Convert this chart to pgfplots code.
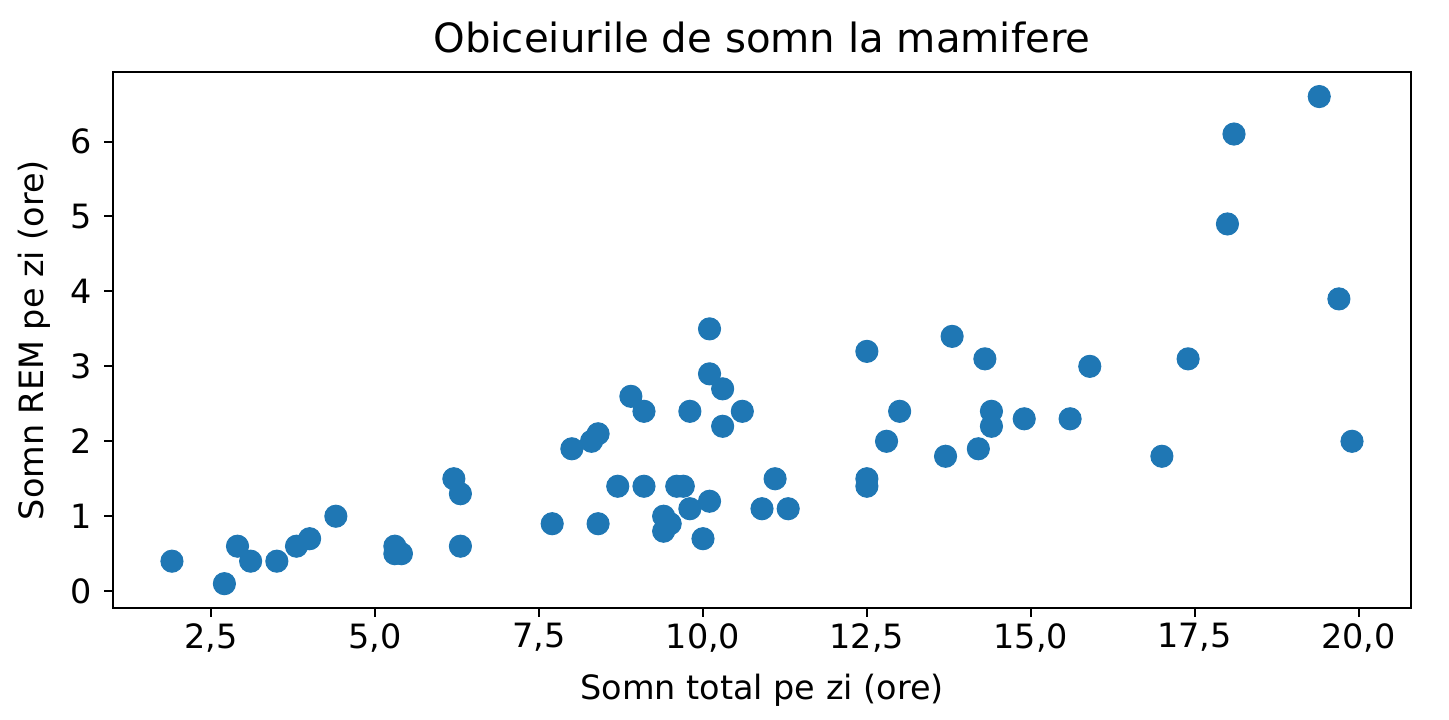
\documentclass[border=0pt]{standalone}
\usepackage{fontspec}
\setmainfont{DejaVu Sans}
\usepackage{pgfplots}
\pgfplotsset{compat=1.18}
\definecolor{tabblue}{HTML}{1F77B4}

\begin{document}
\begin{tikzpicture}
\path[use as bounding box] (-44.9pt,-44.5pt) rectangle (531.1pt,241.7pt);
\begin{axis}[
    scale only axis,
    width=516pt, height=213pt,
    xmin=1.0, xmax=20.8,
    ymin=-0.225, ymax=6.925,
    xtick={2.5,5,7.5,10,12.5,15,17.5,20},
    ytick={0,1,2,3,4,5,6},
    tick align=outside,
    major tick length=3.5pt,
    tick style={black, line width=0.8pt},
    axis line style={line width=0.8pt},
    xtick pos=bottom, ytick pos=left,
    /pgf/number format/assume math mode=true,
    xticklabel style={/pgf/number format/use comma, /pgf/number format/fixed,
        /pgf/number format/fixed zerofill, /pgf/number format/precision=1, yshift=1pt},
    ticklabel style={font=\fontsize{13.3}{15}\selectfont},
    yticklabel style={xshift=-1.5pt},
    title={Obiceiurile de somn la mamifere},
    title style={font=\fontsize{16}{18}\selectfont, yshift=-2pt},
    xlabel={Somn total pe zi (ore)},
    ylabel={Somn REM pe zi (ore)},
    label style={font=\fontsize{13.3}{15}\selectfont},
    xlabel style={yshift=-2pt},
    ylabel style={yshift=1pt},
]
\addplot[only marks, mark=*, mark size=4.4pt, color=tabblue, mark options={draw=tabblue, fill=tabblue}]
coordinates {
(1.9,0.4)(2.7,0.1)(2.9,0.6)(3.1,0.4)(3.5,0.4)(3.8,0.6)(4.0,0.7)(4.4,1.0)
(5.3,0.6)(5.3,0.5)(5.4,0.5)(6.2,1.5)(6.3,1.3)(6.3,0.6)(7.7,0.9)
(8.0,1.9)(8.3,2.0)(8.4,2.1)(8.4,0.9)(8.7,1.4)(8.9,2.6)(9.1,2.4)(9.1,1.4)(9.4,1.0)(9.4,0.8)
(9.5,0.9)(9.6,1.4)(9.7,1.4)(9.8,2.4)(9.8,1.1)(10.0,0.7)(10.1,3.5)(10.1,2.9)(10.1,1.2)(10.3,2.7)
(10.3,2.2)(10.6,2.4)(10.9,1.1)(11.1,1.5)(11.3,1.1)(12.5,3.2)(12.5,1.5)(12.5,1.4)(12.8,2.0)(13.0,2.4)
(13.7,1.8)(13.8,3.4)(14.2,1.9)(14.3,3.1)(14.4,2.4)(14.4,2.2)(14.9,2.3)(15.6,2.3)(15.9,3.0)(17.0,1.8)
(17.4,3.1)(18.0,4.9)(18.1,6.1)(19.4,6.6)(19.7,3.9)(19.9,2.0)
};
\end{axis}
\end{tikzpicture}
\end{document}
